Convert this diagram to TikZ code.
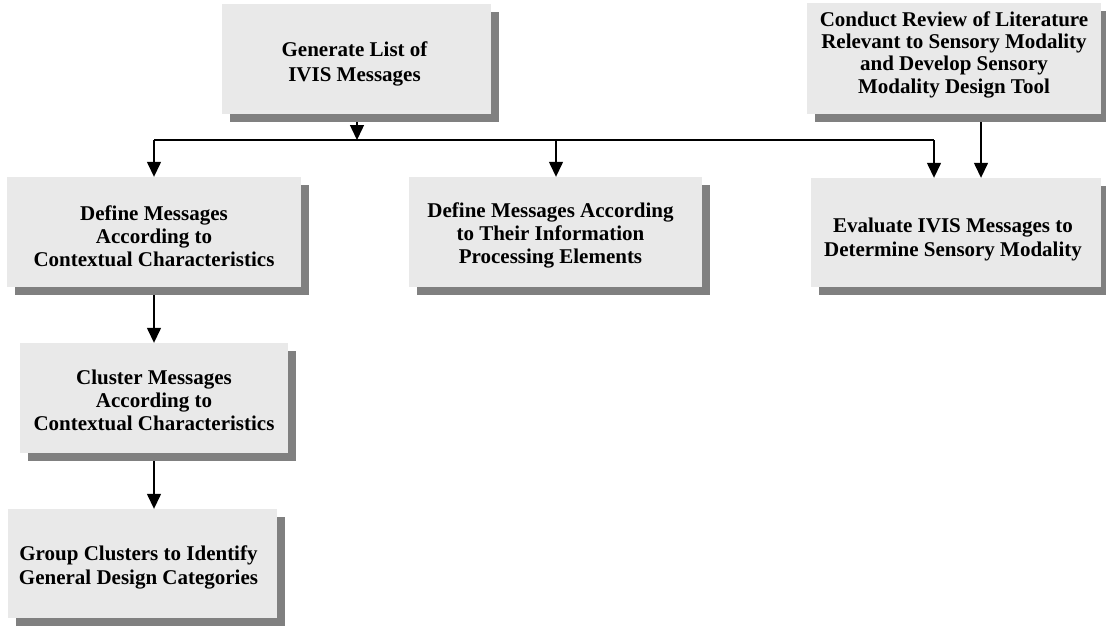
\documentclass[tikz,border=0pt]{standalone}
\usepackage{fontspec}
\setmainfont{Liberation Serif}
\usetikzlibrary{arrows.meta,shadows,calc}
\definecolor{boxfill}{HTML}{E9E9E9}
\definecolor{shd}{HTML}{808080}
\begin{document}
\begin{tikzpicture}[x=1pt,y=-1pt,
  stepbox/.style={rectangle,fill=boxfill,inner sep=0pt,
    drop shadow={shadow xshift=8pt,shadow yshift=-8pt,fill=shd,opacity=1}},
  txt/.style={inner sep=0pt,align=center,font=\bfseries\fontsize{21}{23}\selectfont},
  conn/.style={line width=1.4pt},
  arr/.style={conn,-{Triangle[width=14pt,length=15pt]}}]
\useasboundingbox (0,0) rectangle (1106,625);
\node[stepbox,minimum width=269pt,minimum height=110pt] (gen) at (356.5,59) {};
\node[txt,font=\bfseries\fontsize{21}{25}\selectfont] (gent) at ($(gen)+(-2,5)$) {Generate List of\\IVIS Messages};
\node[stepbox,minimum width=294pt,minimum height=111pt] (lit) at (954,58.5) {};
\node[txt,font=\bfseries\fontsize{21}{22.3}\selectfont] (litt) at ($(lit)+(0,-4)$) {Conduct Review of Literature\\Relevant to Sensory Modality\\and Develop Sensory\\Modality Design Tool};
\node[stepbox,minimum width=290pt,minimum height=109pt] (eval) at (956,232.5) {};
\node[txt,font=\bfseries\fontsize{21}{24}\selectfont] (evalt) at ($(eval)+(-3,7)$) {Evaluate IVIS Messages to\\Determine Sensory Modality};
\node[stepbox,minimum width=294pt,minimum height=110pt] (def1) at (154,232) {};
\node[txt] (def1t) at ($(def1)+(0,4)$) {Define Messages\\According to\\Contextual Characteristics};
\node[stepbox,minimum width=293pt,minimum height=110pt] (def2) at (555.5,232) {};
\node[txt] (def2t) at ($(def2)+(-5,3)$) {Define Messages According\\to Their Information\\Processing Elements};
\node[stepbox,minimum width=268pt,minimum height=110pt] (clu) at (154,398) {};
\node[txt] (clut) at ($(clu)+(0,2)$) {Cluster Messages\\According to\\Contextual Characteristics};
\node[stepbox,minimum width=269pt,minimum height=109pt] (grp) at (142.5,563.5) {};
\node[txt,font=\bfseries\fontsize{21}{24.5}\selectfont] (grpt) at ($(grp)+(-4,4)$) {Group Clusters to Identify\\General Design Categories};
% bus
\coordinate (busL) at (154,140);
\coordinate (busR) at (934,140);
\coordinate (busG) at (357,140);
\coordinate (busD) at (556,140);
\draw[conn] (busL) -- (busR);
\draw[arr] ([yshift=-8pt]gen.south -| busG) -- (busG);
\draw[arr] (busL) -- (busL |- def1.north);
\draw[arr] (busD) -- (busD |- def2.north);
\draw[arr] (busR) -- (busR |- eval.north);
\coordinate (litx) at (981,0);
\draw[arr] ([yshift=-8pt]lit.south -| litx) -- (litx |- eval.north);
\draw[arr] ([yshift=-8pt]def1.south) -- (clu.north -| def1.south);
\draw[arr] ([yshift=-8pt]clu.south) -- (grp.north -| clu.south);
\end{tikzpicture}
\end{document}
